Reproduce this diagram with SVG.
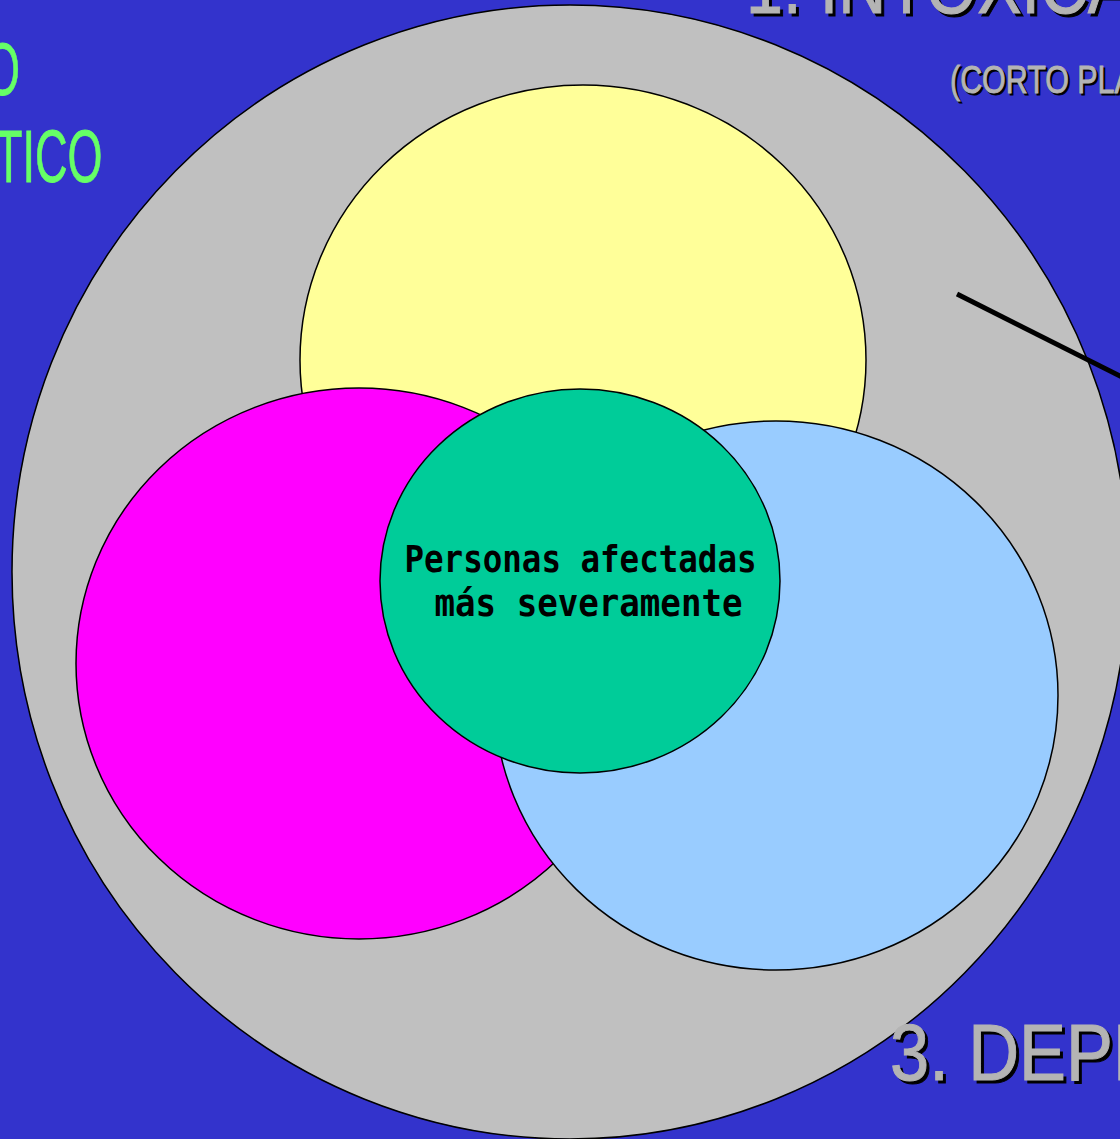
<svg xmlns="http://www.w3.org/2000/svg" width="1120" height="1139" viewBox="0 0 1120 1139">
<style>
.node{stroke:#000;stroke-width:1.5}
.title{font-family:"Liberation Sans",Arial,sans-serif;}
.gray{fill:#B4B4B4;stroke:#B4B4B4;stroke-width:1}
.shadow{fill:#000;stroke:#000;stroke-width:1}
.green{fill:#66FF66;stroke:#66FF66;stroke-width:0.8;font-family:"Liberation Sans",Arial,sans-serif;font-size:75px}
.center{font-family:"DejaVu Sans Mono","Liberation Mono",monospace;font-weight:bold;font-size:32px;fill:#000}
</style>
<rect x="0" y="0" width="1120" height="1139" fill="#3333CC"/>
<g id="outer"><ellipse class="node" cx="570" cy="572" rx="558" ry="567" fill="#C0C0C0"/></g>
<g id="yellow"><ellipse class="node" cx="583" cy="360" rx="283" ry="275" fill="#FFFF99"/></g>
<g id="magenta"><ellipse class="node" cx="359" cy="663.5" rx="283" ry="275.5" fill="#FF00FF"/></g>
<g id="blue"><ellipse class="node" cx="776" cy="695.5" rx="282" ry="274.5" fill="#99CCFF"/></g>
<g id="center">
<ellipse class="node" cx="580" cy="581" rx="200" ry="192" fill="#00CC99"/>
<text class="center" transform="translate(404.5,572) scale(1,1.14)" x="0" y="0" textLength="352" lengthAdjust="spacingAndGlyphs">Personas afectadas</text>
<text class="center" transform="translate(434.5,616) scale(1,1.14)" x="0" y="0" textLength="308" lengthAdjust="spacingAndGlyphs">más severamente</text>
</g>
<g id="connectors"><line x1="957" y1="294" x2="1125" y2="378.5" stroke="#000" stroke-width="5"/></g>
<g id="label-left">
<text class="green" transform="translate(20,95) scale(0.6,1)" text-anchor="end">O</text>
<text class="green" transform="translate(102.5,182) scale(0.6,1)" text-anchor="end">TICO</text>
</g>
<g id="label-1" class="title" font-size="80">
<text class="shadow" transform="translate(749,16) scale(0.83,1)">1. INTOXICA</text>
<text class="gray" transform="translate(746,13) scale(0.83,1)">1. INTOXICA</text>
</g>
<g id="label-corto" class="title" font-size="39">
<text class="shadow" transform="translate(952,95) scale(0.78,1)">(CORTO PLA</text>
<text class="gray" transform="translate(950,93) scale(0.78,1)">(CORTO PLA</text>
</g>
<g id="label-3" class="title" font-size="80">
<text class="shadow" transform="translate(893,1083) scale(0.88,1)">3. DEPE</text>
<text class="gray" transform="translate(890,1080) scale(0.88,1)">3. DEPE</text>
</g>
</svg>
